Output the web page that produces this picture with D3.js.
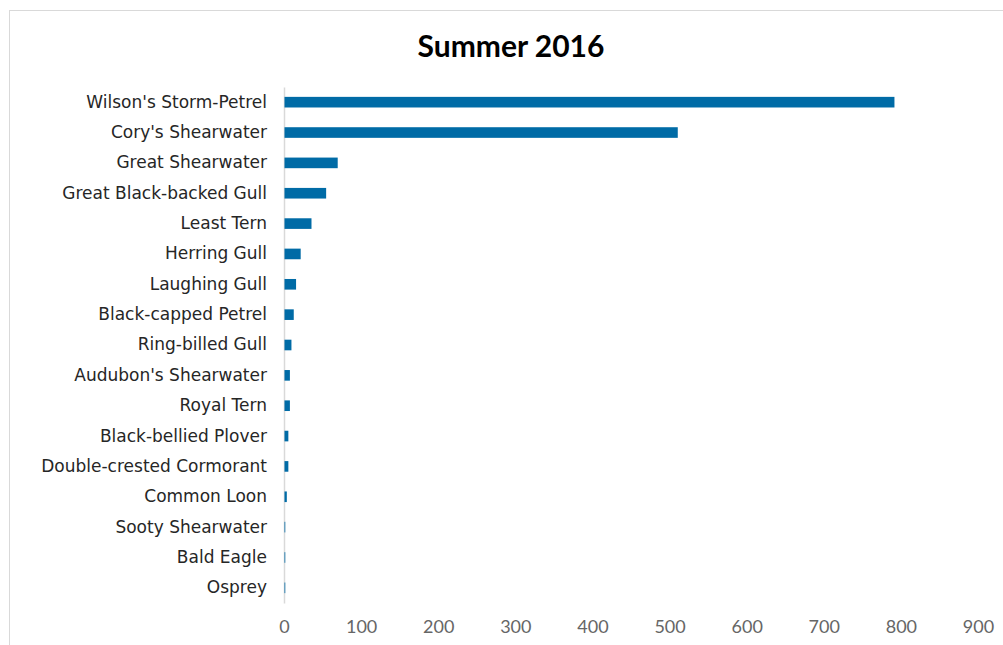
<!DOCTYPE html>
<html>
<head>
<meta charset="utf-8">
<script src="https://cdn.jsdelivr.net/npm/d3@7"></script>
<style>
  body { margin: 0; background: #fff; }
  svg { display: block; }
</style>
</head>
<body>
<script>
var width = 1003;
var height = 645;

var margin = { top: 87, right: 25, bottom: 42, left: 284 };

// species counts, Summer 2016
var species = [
    "Wilson's Storm-Petrel",
    "Cory's Shearwater",
    "Great Shearwater",
    "Great Black-backed Gull",
    "Least Tern",
    "Herring Gull",
    "Laughing Gull",
    "Black-capped Petrel",
    "Ring-billed Gull",
    "Audubon's Shearwater",
    "Royal Tern",
    "Black-bellied Plover",
    "Double-crested Cormorant",
    "Common Loon",
    "Sooty Shearwater",
    "Bald Eagle",
    "Osprey"
];
var counts = [791, 510, 69, 54, 35, 21, 15, 12, 9, 7, 7, 5, 5, 3, 1, 1, 1];
var ticks = [0, 100, 200, 300, 400, 500, 600, 700, 800, 900];

var dataset = species.map(function(s, i) { return [s, counts[i]]; });

var svg = d3.select('body')
    .append('svg')
    .attr('width', width)
    .attr('height', height);

// chart frame
svg.append('rect')
    .attr('x', 9.5)
    .attr('y', 10.5)
    .attr('width', 1010)
    .attr('height', 650)
    .attr('fill', '#fff')
    .attr('stroke', '#d9d9d9');

var x = d3.scaleLinear()
    .domain([0, 900])
    .range([margin.left, 978]);

var y = d3.scaleBand()
    .domain(species)
    .range([margin.top, height - margin.bottom])
    .paddingInner(0.65)
    .paddingOuter(0.325);

svg.append('text')
    .attr('x', 511)
    .attr('y', 57)
    .attr('text-anchor', 'middle')
    .attr('font-family', 'Lato, sans-serif')
    .attr('font-weight', 'bold')
    .attr('font-size', 30)
    .attr('fill', '#000')
    .text('Summer 2016');

// category axis
var yAxis = svg.append('g')
    .attr('transform', 'translate(' + x(0) + ',0)')
    .call(d3.axisLeft(y).tickSize(0).tickPadding(17));
yAxis.select('.domain').attr('stroke', '#d9d9d9').attr('stroke-width', 1.5);
yAxis.selectAll('text')
    .attr('font-family', 'DejaVu Sans, sans-serif')
    .attr('font-size', 17)
    .attr('fill', '#262626');

svg.selectAll('rect.bar')
    .data(dataset)
    .enter()
    .append('rect')
    .attr('class', 'bar')
    .attr('x', x(0) + 0.5)
    .attr('y', function(d) { return y(d[0]); })
    .attr('width', function(d) { return x(d[1]) - x(0); })
    .attr('height', y.bandwidth())
    .attr('fill', '#006ba6');

// value axis, labels only
var xAxis = svg.append('g')
    .attr('transform', 'translate(0,' + (height - margin.bottom) + ')')
    .call(d3.axisBottom(x).tickValues(ticks).tickSize(0).tickPadding(17));
xAxis.select('.domain').remove();
xAxis.selectAll('text')
    .attr('font-family', 'Lato, sans-serif')
    .attr('font-size', 18)
    .attr('fill', '#666666');
</script>
</body>
</html>
